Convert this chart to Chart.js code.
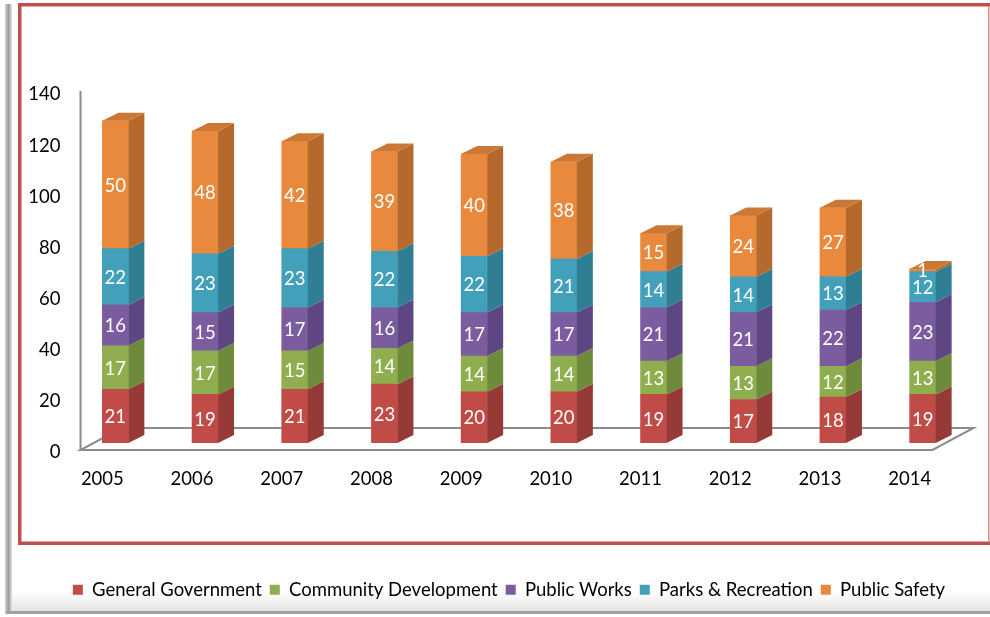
<!DOCTYPE html>
<html>
<head>
<meta charset="utf-8">
<title>Expenditures by Function 2005-2014</title>
<script src="https://cdn.jsdelivr.net/npm/chart.js@4.4.1/dist/chart.umd.min.js"></script>
<style>
  html, body { margin: 0; padding: 0; background: #fff; }
  canvas { display: block; }
</style>
</head>
<body>
<canvas id="fundChart" width="990" height="617"></canvas>
<script>
const years = ['2005', '2006', '2007', '2008', '2009', '2010', '2011', '2012', '2013', '2014'];
const generalGovernment = [21, 19, 21, 23, 20, 20, 19, 17, 18, 19];
const communityDevelopment = [17, 17, 15, 14, 14, 14, 13, 13, 12, 13];
const publicWorks = [16, 15, 17, 16, 17, 17, 21, 21, 22, 23];
const parksRecreation = [22, 23, 23, 22, 22, 21, 14, 14, 13, 12];
const publicSafety = [50, 48, 42, 39, 40, 38, 15, 24, 27, 1];
const yTicks = [0, 20, 40, 60, 80, 100, 120, 140];

// front / side / top shades for each function
const series = [
  { label: 'General Government', data: generalGovernment, front: '#c04b47', side: '#963a37', top: '#a9423f' },
  { label: 'Community Development', data: communityDevelopment, front: '#8fae4f', side: '#6e8a3b', top: '#7d9b45' },
  { label: 'Public Works', data: publicWorks, front: '#7a5c9f', side: '#5d4681', top: '#6a5090' },
  { label: 'Parks & Recreation', data: parksRecreation, front: '#42a0bb', side: '#2f7e93', top: '#378ea6' },
  { label: 'Public Safety', data: publicSafety, front: '#e8893d', side: '#b6692c', top: '#cc7834' }
];

const FONT = 'Lato';
const FONT_SIZE = 18.5;
const DEPTH_X = 16;   // bar depth, sideways
const DEPTH_Y = 8;    // bar depth, upwards
const FLOOR_X = 41;   // floor depth
const FLOOR_Y = 22;
const PLOT_BOTTOM = 443;  // pixel row of the zero line
const PAD_BOTTOM = 8;

// white page, grey sheet edge and the red border
const frame = {
  id: 'frame',
  beforeDraw(chart) {
    const { ctx, width, height } = chart;
    ctx.save();
    ctx.fillStyle = '#fff';
    ctx.fillRect(0, 0, width, height);

    const shade = ctx.createLinearGradient(0, 590, 0, 611);
    shade.addColorStop(0, 'rgba(230,230,230,0)');
    shade.addColorStop(1, 'rgba(215,215,215,0.7)');
    ctx.fillStyle = shade;
    ctx.fillRect(10, 590, width - 10, 21);

    const edge = ctx.createLinearGradient(5, 0, 12, 0);
    edge.addColorStop(0, '#d6d6d6');
    edge.addColorStop(0.5, '#9c9c9c');
    edge.addColorStop(1, '#e4e4e4');
    ctx.fillStyle = edge;
    ctx.fillRect(5, 4, 7, 610);
    ctx.fillStyle = '#a2a2a2';
    ctx.fillRect(6, 611, width - 6, 3);

    ctx.fillStyle = '#c0504d';
    ctx.fillRect(18, 3, width - 18, 3.5);
    ctx.fillRect(18, 3, 3.5, 542);
    ctx.fillRect(18, 541.5, width - 18, 3.5);
    ctx.fillStyle = '#d88e8c';
    ctx.fillRect(988, 6, 1.5, 536);
    ctx.restore();
  }
};

// vertical axis line and the floor under the columns
const floor = {
  id: 'floor',
  beforeDatasetsDraw(chart) {
    const { ctx, chartArea, scales: { y } } = chart;
    const frontY = y.getPixelForValue(0) + 7;
    const backY = frontY - FLOOR_Y;
    const x0 = chartArea.left + 10;
    const x1 = chartArea.right - 35;
    ctx.save();
    ctx.strokeStyle = '#8c8c8c';
    ctx.lineWidth = 2;
    ctx.beginPath();
    ctx.moveTo(x0, y.getPixelForValue(140) + 6);
    ctx.lineTo(x0, frontY);
    ctx.stroke();
    ctx.beginPath();
    ctx.moveTo(x0, frontY);
    ctx.lineTo(x1, frontY);
    ctx.lineTo(x1 + FLOOR_X, backY);
    ctx.lineTo(x0 + FLOOR_X, backY);
    ctx.closePath();
    ctx.stroke();
    ctx.restore();
  }
};

// side and top faces of each column, then the value labels
const bar3d = {
  id: 'bar3d',
  afterDatasetsDraw(chart) {
    const ctx = chart.ctx;
    const metas = chart.getSortedVisibleDatasetMetas();
    ctx.save();
    years.forEach((yr, i) => {
      metas.forEach((meta, k) => {
        const s = series[meta.index];
        const { x, y, base, width } = meta.data[i].getProps(['x', 'y', 'base', 'width'], true);
        const left = x - width / 2;
        const right = x + width / 2;
        ctx.fillStyle = s.side;
        ctx.beginPath();
        ctx.moveTo(right, y);
        ctx.lineTo(right + DEPTH_X, y - DEPTH_Y);
        ctx.lineTo(right + DEPTH_X, base - DEPTH_Y);
        ctx.lineTo(right, base);
        ctx.closePath();
        ctx.fill();
        if (k === metas.length - 1) {
          ctx.fillStyle = s.top;
          ctx.beginPath();
          ctx.moveTo(left, y);
          ctx.lineTo(right, y);
          ctx.lineTo(right + DEPTH_X, y - DEPTH_Y);
          ctx.lineTo(left + DEPTH_X, y - DEPTH_Y);
          ctx.closePath();
          ctx.fill();
        }
      });
    });

    ctx.font = FONT_SIZE + 'px ' + FONT;
    ctx.fillStyle = '#ffffff';
    ctx.textAlign = 'center';
    ctx.textBaseline = 'middle';
    metas.forEach(meta => {
      const values = series[meta.index].data;
      meta.data.forEach((el, i) => {
        const { x, y, base } = el.getProps(['x', 'y', 'base'], true);
        ctx.fillText(String(values[i]), x, (y + base) / 2 + 1);
      });
    });
    ctx.restore();
  }
};

// the legend row sits a little right of the page centre
const legendNudge = {
  id: 'legendNudge',
  afterLayout(chart) {
    chart.legend.left += 15;
    chart.legend.right += 15;
  }
};

function drawChart() {
  const ctx = document.getElementById('fundChart').getContext('2d');
  new Chart(ctx, {
    type: 'bar',
    data: {
      labels: years,
      datasets: series.map(s => ({
        label: s.label,
        data: s.data,
        backgroundColor: s.front,
        borderWidth: 0,
        barThickness: 26
      }))
    },
    options: {
      responsive: false,
      animation: false,
      layout: { padding: { left: 20.5, right: 22.5, top: 85, bottom: PAD_BOTTOM } },
      scales: {
        x: {
          stacked: true,
          grid: { display: false, drawTicks: false },
          border: { display: false },
          ticks: { font: { family: FONT, size: FONT_SIZE }, color: '#000', labelOffset: -13, padding: 25 },
          afterFit: scale => {
            const chart = scale.chart;
            scale.height = chart.height - PAD_BOTTOM - chart.legend.height - PLOT_BOTTOM;
          }
        },
        y: {
          stacked: true,
          min: 0,
          max: 140,
          grid: { display: false, drawTicks: false },
          border: { display: false },
          ticks: { font: { family: FONT, size: FONT_SIZE }, color: '#000', padding: 10, labelOffset: 9.5 },
          afterBuildTicks: scale => { scale.ticks = yTicks.map(v => ({ value: v })); },
          afterFit: scale => { scale.width = 50; }
        }
      },
      plugins: {
        legend: {
          position: 'bottom',
          labels: {
            boxWidth: 10,
            boxHeight: 10,
            padding: 8,
            color: '#000',
            font: { family: FONT, size: FONT_SIZE }
          }
        },
        tooltip: { enabled: false }
      }
    },
    plugins: [frame, floor, bar3d, legendNudge]
  });
}

document.fonts.load(FONT_SIZE + 'px ' + FONT).then(drawChart, drawChart);
</script>
</body>
</html>
